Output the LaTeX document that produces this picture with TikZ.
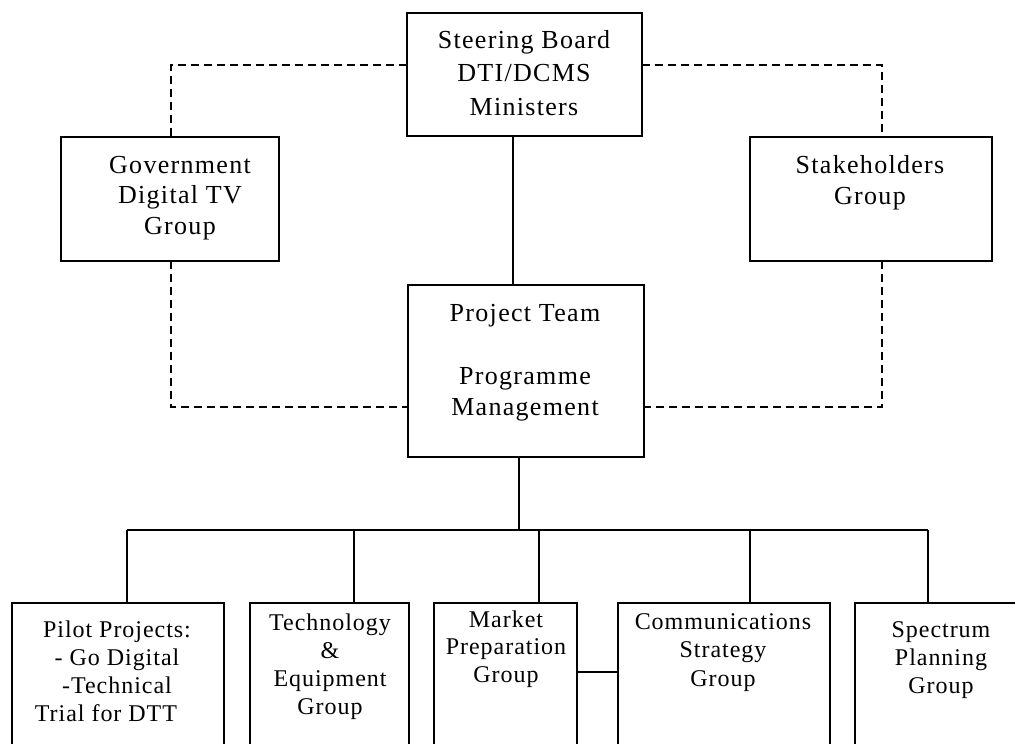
\documentclass[tikz,border=0pt]{standalone}
\usepackage{fontspec}
\setmainfont{Liberation Serif}
\newfontfamily\topfont[LetterSpace=5]{Liberation Serif}
\newfontfamily\botfont[LetterSpace=4]{Liberation Serif}
\begin{document}
\begin{tikzpicture}[x=1pt,y=-1pt,
  box/.style={draw,line width=2pt,inner sep=0pt,outer sep=0pt,rectangle},
  toptxt/.style={align=center,inner sep=0pt,anchor=base,font=\topfont\fontsize{26}{31.5}\selectfont},
  bottxt/.style={align=center,inner sep=0pt,anchor=base,font=\botfont\fontsize{24}{28}\selectfont},
  solidline/.style={line width=2pt},
  dashline/.style={line width=2pt,dash pattern=on 8pt off 5pt}]
\useasboundingbox (0,0) rectangle (1015,744);
\clip (0,0) rectangle (1015,744);
% boxes
\node[box,minimum width=235pt,minimum height=123pt] (sb) at (524.5,74.5) {};
\node[box,minimum width=218pt,minimum height=124pt] (gov) at (170,199) {};
\node[box,minimum width=242pt,minimum height=124pt] (stk) at (871,199) {};
\node[box,minimum width=236pt,minimum height=172pt] (pt) at (526,371) {};
\node[box,minimum width=212pt,minimum height=167pt] (pil) at (118,686.5) {};
\node[box,minimum width=159pt,minimum height=167pt] (tec) at (329.5,686.5) {};
\node[box,minimum width=143pt,minimum height=167pt] (mkt) at (505.5,686.5) {};
\node[box,minimum width=212pt,minimum height=167pt] (com) at (724,686.5) {};
\node[box,minimum width=175pt,minimum height=167pt] (spe) at (942.5,686.5) {};
% texts (anchored at the baseline of the last line)
\node[toptxt,font=\topfont\fontsize{26}{33.3}\selectfont] (sbt) at (524,115) {Steering Board\\DTI/DCMS\\Ministers};
\node[toptxt,font=\topfont\fontsize{26}{30.5}\selectfont] (govt) at (180,234) {Government\\Digital TV\\Group};
\node[toptxt,font=\topfont\fontsize{26}{31}\selectfont] (stkt) at (870,204) {Stakeholders\\Group};
\node[toptxt] (ptt) at (525,415.5) {Project Team\\\mbox{}\\Programme\\Management};
\node[bottxt] (pilt) at (117,721) {Pilot Projects:\\- Go Digital\\-Technical\hspace*{16pt}\\Trial for DTT\hspace*{22pt}};
\node[bottxt,font=\botfont\fontsize{24}{27.7}\selectfont] (tect) at (330,714) {Technology\\\&\\Equipment\\Group};
\node[bottxt,font=\botfont\fontsize{24}{27.5}\selectfont] (mktt) at (506,682) {Market\\Preparation\\Group};
\node[bottxt,font=\botfont\fontsize{24}{28.5}\selectfont] (comt) at (723,686) {Communications\\Strategy\\Group};
\node[bottxt] (spet) at (941,693) {Spectrum\\Planning\\Group};
% coordinates
\coordinate (xs) at (513,0);
\coordinate (xp) at (519,0);
\coordinate (d1) at (127,530);
\coordinate (d2) at (354,530);
\coordinate (d3) at (539,530);
\coordinate (d4) at (750,530);
\coordinate (d5) at (928,530);
\coordinate (tl) at (171,65);
\coordinate (tr) at (882,65);
\coordinate (bl) at (171,407);
\coordinate (br) at (882,407);
\coordinate (mc) at (0,672);
% solid connectors
\draw[solidline] (sb.south -| xs) -- (pt.north -| xs);
\draw[solidline] (pt.south -| xp) -- (d1 -| xp);
\draw[solidline] (d1) -- (d5);
\draw[solidline] (d1) -- (pil.north -| d1);
\draw[solidline] (d2) -- (tec.north -| d2);
\draw[solidline] (d3) -- (mkt.north -| d3);
\draw[solidline] (d4) -- (com.north -| d4);
\draw[solidline] (d5) -- (spe.north -| d5);
\draw[solidline] (mkt.east |- mc) -- (com.west |- mc);
% dashed connectors
\draw[dashline] (sb.west |- tl) -- (tl) -- (gov.north -| tl);
\draw[dashline] (sb.east |- tr) -- (tr) -- (stk.north -| tr);
\draw[dashline] (gov.south -| bl) -- (bl) -- (pt.west |- bl);
\draw[dashline] (stk.south -| br) -- (br) -- (pt.east |- br);
\end{tikzpicture}
\end{document}
